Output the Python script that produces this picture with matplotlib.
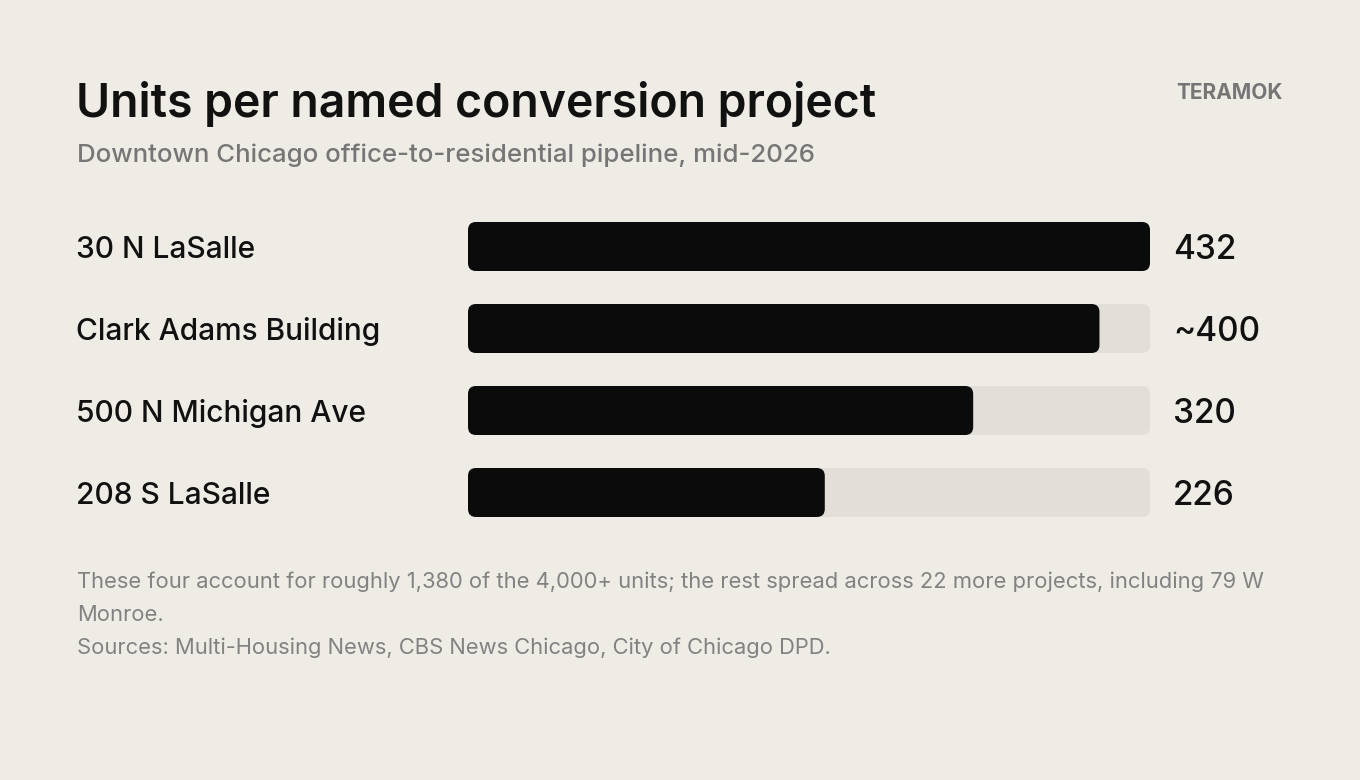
import matplotlib
matplotlib.use("Agg")
import matplotlib.pyplot as plt
from matplotlib.patches import FancyBboxPatch

# ---- data ----
projects = ["30 N LaSalle", "Clark Adams Building", "500 N Michigan Ave", "208 S LaSalle"]
units = [432, 400, 320, 226]
value_labels = ["432", "~400", "320", "226"]
scale_max = 432

title = "Units per named conversion project"
subtitle = "Downtown Chicago office-to-residential pipeline, mid-2026"
brand = "TERAMOK"
notes = [
    "These four account for roughly 1,380 of the 4,000+ units; the rest spread across 22 more projects, including 79 W",
    "Monroe.",
    "Sources: Multi-Housing News, CBS News Chicago, City of Chicago DPD.",
]

# ---- style ----
W, H = 1360, 780
BG = "#EFECE6"
TRACK = "#E2DFD9"
BAR = "#0B0B0B"
INK = "#111111"
GRAY = "#767676"
NOTE = "#828282"
FONT = ["Inter", "DejaVu Sans"]
plt.rcParams["font.family"] = FONT

fig = plt.figure(figsize=(W / 100, H / 100), dpi=100)
fig.patch.set_facecolor(BG)

def fx(px):
    return px / W

def fy(py):
    return 1 - py / H

# bar area geometry (pixels)
x0, x1 = 468, 1150
row_step = 82
bar_h_px = 49
first_center = 246.5
n = len(projects)
half = bar_h_px / 2 / row_step
y_top_px = first_center - bar_h_px / 2
y_bot_px = first_center + (n - 1) * row_step + bar_h_px / 2

ax = fig.add_axes([fx(x0), fy(y_bot_px), fx(x1) - fx(x0), (y_bot_px - y_top_px) / H])
ax.set_xlim(0, scale_max)
ax.set_ylim(n - 1 + half, -half)
ax.axis("off")
ax.patch.set_alpha(0)

px_per_x = (x1 - x0) / scale_max
r_px = 8
r_x = r_px / px_per_x
aspect = px_per_x / row_step
bh = bar_h_px / row_step

for i, (name, v, lab) in enumerate(zip(projects, units, value_labels)):
    track = FancyBboxPatch((0, i - bh / 2), scale_max, bh,
                           boxstyle=f"round,pad=0,rounding_size={r_x}",
                           mutation_aspect=aspect, fc=TRACK, ec="none")
    ax.add_patch(track)
    bar = FancyBboxPatch((0, i - bh / 2), v, bh,
                         boxstyle=f"round,pad=0,rounding_size={r_x}",
                         mutation_aspect=aspect, fc=BAR, ec="none")
    ax.add_patch(bar)
    cy = first_center + i * row_step
    fig.text(fx(76), fy(cy + 11.2), name, fontsize=21.5, fontweight="medium",
             color=INK, ha="left", va="baseline")
    fig.text(fx(1173), fy(cy + 12.5), lab, fontsize=24, fontweight="medium",
             color=INK, ha="left", va="baseline")

fig.text(fx(76), fy(117), title, fontsize=33.4, fontweight="semibold",
         color=INK, ha="left", va="baseline")
fig.text(fx(77), fy(162), subtitle, fontsize=18.6, fontweight="medium",
         color=GRAY, ha="left", va="baseline")
fig.text(fx(1283), fy(99), brand, fontsize=15, fontweight="bold",
         color=GRAY, ha="right", va="baseline")

for k, line in enumerate(notes):
    fig.text(fx(77), fy(588 + k * 33), line, fontsize=15.8, color=NOTE,
             ha="left", va="baseline")

fig.savefig("out.png", dpi=100, facecolor=BG)
